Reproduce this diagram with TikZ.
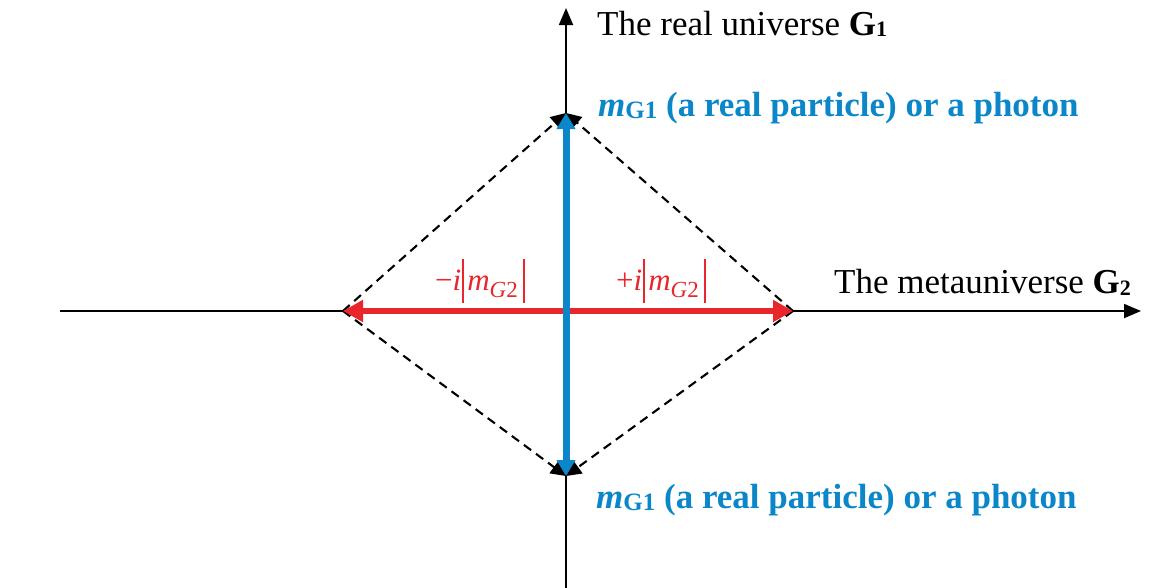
\documentclass[tikz,border=0pt]{standalone}
\usepackage{fontspec}
\setmainfont{Liberation Serif}
\usetikzlibrary{arrows.meta}
\definecolor{bl}{HTML}{0B87C9}
\definecolor{rd}{HTML}{E8262B}
\newcommand{\redbar}{\rule[-0.42em]{0.07em}{1.42em}}
\tikzset{
  axis/.style={line width=1.8pt, -{Triangle[length=17pt,width=14pt]}},
  diag/.style={line width=2.1pt, dash pattern=on 9pt off 6pt, -{Triangle[length=15pt,width=15pt]}},
  bluearr/.style={draw=bl, line width=7pt, {Triangle[length=16pt,width=18pt]}-{Triangle[length=16pt,width=18pt]}},
  redarr/.style={draw=rd, line width=6pt, {Triangle[length=20pt,width=21pt]}-{Triangle[length=20pt,width=21pt]}},
  lbl/.style={inner sep=0pt, anchor=base west, font=\fontsize{35}{40}\selectfont},
  bluelbl/.style={inner sep=0pt, anchor=base west, text=bl, font=\fontsize{35}{40}\selectfont\bfseries},
  redlbl/.style={inner sep=0pt, anchor=base, text=rd, font=\fontsize{31}{34}\selectfont}
}
\begin{document}
\begin{tikzpicture}[x=1pt,y=-1pt]
\useasboundingbox (0,0) rectangle (1163,587);
\coordinate (xs) at (60,311);
\coordinate (xe) at (1141,311);
\coordinate (ys) at (566,590);
\coordinate (ye) at (566,8);
\coordinate (T) at (566,113);
\coordinate (B) at (566,476);
\coordinate (L) at (343,311);
\coordinate (R) at (793,311);
% axes
\draw[axis] (xs) -- (xe);
\draw[axis] (ys) -- (ye);
% dashed diamond
\draw[diag] (L) -- (T);
\draw[diag] (R) -- (T);
\draw[diag] (L) -- (B);
\draw[diag] (R) -- (B);
% red and blue arrows
\draw[redarr] (L) -- (R);
\draw[bluearr] (T) -- (B);
% labels
\node[lbl] (g1) at (597,35) {The real universe \textbf{G}{\fontsize{22}{22}\selectfont\bfseries\raisebox{-1pt}{1}}};
\node[lbl] (g2) at (834,293) {The metauniverse \textbf{G}{\fontsize{22}{22}\selectfont\bfseries\raisebox{-2pt}{2}}};
\node[bluelbl] (mt) at (598,116) {\textit{m}{\fontsize{25}{25}\selectfont\raisebox{-2pt}{G1}} (a real particle) or a photon};
\node[bluelbl] (mb) at (596,508) {\textit{m}{\fontsize{25}{25}\selectfont\raisebox{-2pt}{G1}} (a real particle) or a photon};
\node[redlbl] (lm) at (480,290) {−\textit{i}\kern1pt\redbar\kern3pt\textit{m}{\fontsize{23}{23}\selectfont\raisebox{-7pt}{\textit{G}2}}\kern5pt\redbar};
\node[redlbl] (lp) at (661,290) {+\textit{i}\kern1pt\redbar\kern3pt\textit{m}{\fontsize{23}{23}\selectfont\raisebox{-7pt}{\textit{G}2}}\kern5pt\redbar};
\end{tikzpicture}
\end{document}
